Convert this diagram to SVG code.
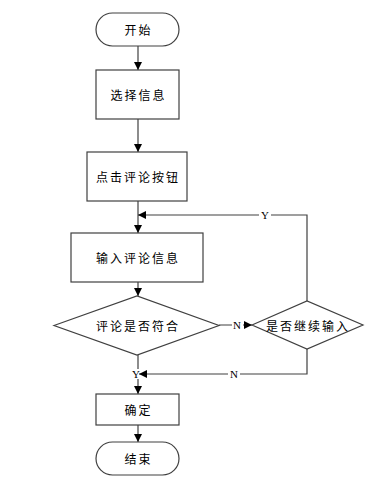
<svg xmlns="http://www.w3.org/2000/svg" width="370" height="494" viewBox="0 0 370 494">
<style>
.s{fill:#fff;stroke:#404040;stroke-width:1.2}
.t{font-family:"Noto Sans CJK SC","Noto Sans",sans-serif;font-size:12px;letter-spacing:2px;fill:#000;text-anchor:middle;dominant-baseline:central}
.l{font-family:"Liberation Serif",serif;font-size:11px;fill:#000;text-anchor:middle;dominant-baseline:central}
.c{fill:none;stroke:#404040;stroke-width:1.2}
</style>
<defs>
<marker id="a" viewBox="0 0 10 10" refX="10" refY="5" markerWidth="8" markerHeight="8" markerUnits="userSpaceOnUse" orient="auto"><path d="M0,0L10,5L0,10z" fill="#000"/></marker>
</defs>
<rect width="370" height="494" fill="#fff"/>
<g id="connectors">
<line class="c" x1="138" y1="46" x2="138" y2="70" marker-end="url(#a)"/>
<line class="c" x1="138" y1="119" x2="138" y2="152" marker-end="url(#a)"/>
<line class="c" x1="138" y1="201" x2="138" y2="233" marker-end="url(#a)"/>
<line class="c" x1="138" y1="282" x2="138" y2="296" marker-end="url(#a)"/>
<line class="c" x1="219" y1="325" x2="252" y2="325" marker-end="url(#a)"/>
<polyline class="c" points="307,301 307,215 138,215" marker-end="url(#a)"/>
<polyline class="c" points="307,349 307,374 139,374" marker-end="url(#a)"/>
<line class="c" x1="138" y1="355" x2="138" y2="369"/>
<line class="c" x1="138" y1="379" x2="138" y2="394" marker-end="url(#a)"/>
<line class="c" x1="138" y1="425" x2="138" y2="442" marker-end="url(#a)"/>
<rect x="259" y="208" width="12" height="14" fill="#fff"/>
<text class="l" x="265" y="215">Y</text>
<rect x="232" y="319" width="11" height="12" fill="#fff"/>
<text class="l" x="237" y="325">N</text>
<rect x="228" y="368" width="12" height="12" fill="#fff"/>
<text class="l" x="234" y="374">N</text>
<text class="l" x="136" y="374">Y</text>
</g>
<g id="start"><rect class="s" x="96" y="13" width="83" height="33" rx="16.5"/><text class="t" x="138.5" y="29.5">开始</text></g>
<g id="select"><rect class="s" x="96" y="70" width="83" height="49"/><text class="t" x="138.5" y="94.5">选择信息</text></g>
<g id="click"><rect class="s" x="87" y="152" width="100" height="49"/><text class="t" x="138" y="176.5">点击评论按钮</text></g>
<g id="input"><rect class="s" x="71" y="233" width="132" height="49"/><text class="t" x="138" y="257.5">输入评论信息</text></g>
<g id="check"><polygon class="s" points="54,325.5 137,296 219,325.5 137,355"/><text class="t" x="138" y="325.5">评论是否符合</text></g>
<g id="continue"><polygon class="s" points="252,325 307,301 363,325 307,349"/><text class="t" x="308" y="325">是否继续输入</text></g>
<g id="confirm"><rect class="s" x="96" y="394" width="83" height="31"/><text class="t" x="138.5" y="409.5">确定</text></g>
<g id="end"><rect class="s" x="96" y="442" width="83" height="33" rx="16.5"/><text class="t" x="138.5" y="458.5">结束</text></g>
</svg>
